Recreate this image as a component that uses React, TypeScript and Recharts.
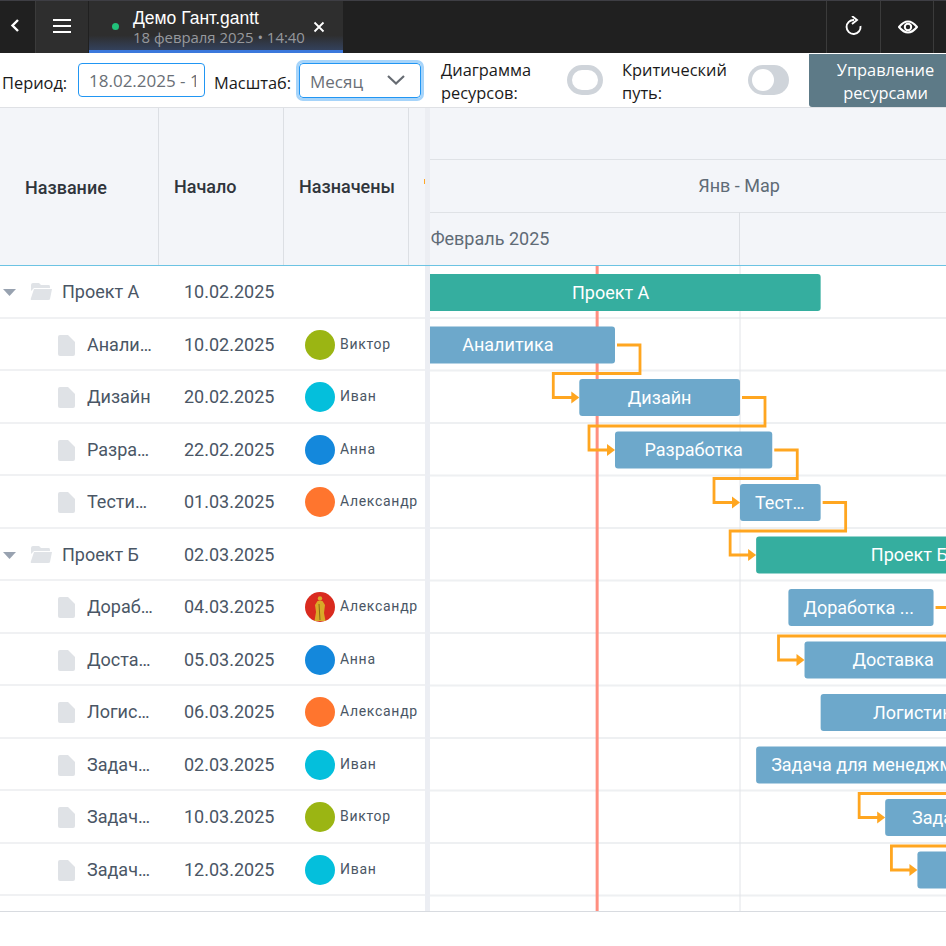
import React from "react";
import { BarChart, Bar, XAxis, YAxis, CartesianGrid, ReferenceLine } from "recharts";

const tableLabels = ["Проект А", "Анали…", "Дизайн", "Разра…", "Тести…", "Проект Б", "Дораб…", "Доста…", "Логис…", "Задач…", "Задач…", "Задач…"];
const barLabels = ["Проект А", "Аналитика", "Дизайн", "Разработка", "Тест…", "Проект Б", "Доработка ...", "Доставка", "Логистика", "Задача для менеджмента", "Задача 2", "Задача 3"];
const startDates = ["10.02.2025", "10.02.2025", "20.02.2025", "22.02.2025", "01.03.2025", "02.03.2025", "04.03.2025", "05.03.2025", "06.03.2025", "02.03.2025", "10.03.2025", "12.03.2025"];
const endDates = ["06.03.2025", "22.02.2025", "01.03.2025", "03.03.2025", "06.03.2025", "21.03.2025", "13.03.2025", "16.03.2025", "18.03.2025", "17.03.2025", "18.03.2025", "21.03.2025"];
const assignees = ["", "Виктор", "Иван", "Анна", "Александр", "", "Александр", "Анна", "Александр", "Иван", "Виктор", "Иван"];
const groups = [0, 5];
// rows whose name does not fit the bar: left aligned instead of centred
const leftAligned = [4, 6, 9];
// successor row of each row, -1 when there is no link
const nextRow = [-1, 2, 3, 4, 5, -1, 7, -1, -1, 10, 11, -1];
const monthLabels = ["Февраль 2025", "Март 2025"];
const monthTicks = [0.5, 1.5];
const todayDate = "21.02.2025";

const avatarColors: Record<string, string> = { Виктор: "#9bb513", Иван: "#04bfdc", Анна: "#1488dc", Александр: "#ff752e" };

const ROW_H = 52.5;
const ORANGE = "#ffa620";

// Every month gets the same width on this timeline, so dates map to month units.
const monthDays: Record<number, number> = { 2: 28, 3: 31 };
function toPos(date: string) {
  const [d, m] = date.split(".").map(Number);
  return m - 2 + (d - 1) / monthDays[m];
}

const rows = barLabels.map((label, i) => ({
  id: String(i),
  label,
  range: [toPos(startDates[i]), toPos(endDates[i])],
  isGroup: groups.includes(i),
  isLeft: leftAligned.includes(i),
  next: nextRow[i],
}));

function TaskBar(props: any) {
  const { x, y, width, height, payload } = props;
  const [start, end] = payload.range;
  const unit = width / (end - start);
  const cy = y + height / 2;
  const ex = x + width;
  let link = null;
  if (payload.next >= 0) {
    const tx = x + (rows[payload.next].range[0] - start) * unit;
    const ty = cy + (payload.next - Number(payload.id)) * ROW_H;
    link = (
      <g>
        <path d={`M${ex + 2} ${cy} H${ex + 25} V${cy + 28.5} H${tx - 26} V${ty} H${tx - 6}`} fill="none" stroke={ORANGE} strokeWidth={2.8} />
        <path d={`M${tx - 8} ${ty - 6} L${tx} ${ty} L${tx - 8} ${ty + 6} Z`} fill={ORANGE} />
      </g>
    );
  }
  return (
    <g>
      {link}
      <rect x={x} y={y} width={width} height={height} rx={3} fill={payload.isGroup ? "#35ae9f" : "#6da8cb"} />
      <text
        x={payload.isLeft ? x + 15 : x + width / 2}
        y={cy}
        dy="0.355em"
        textAnchor={payload.isLeft ? "start" : "middle"}
        fill="#fff"
        fontSize={18}
        fontFamily="Roboto, sans-serif"
      >
        {payload.label}
      </text>
    </g>
  );
}

function Avatar({ name }: { name: string }) {
  if (name === "Александр-фото") {
    return (
      <svg width={30} height={30} style={{ position: "absolute", left: 305, top: 11 }}>
        <circle cx={15} cy={15} r={15} fill="#d92b1f" />
        <circle cx={15} cy={6.5} r={2.2} fill="#d9a928" />
        <path d="M12.5 9 h5 l2.5 4 l-1 8 l1.5 8 h-11 l1.5 -9 l-1 -7 z" fill="#d9a928" />
        <path d="M14 12 l1 16" stroke="#8a6a14" strokeWidth={1} />
      </svg>
    );
  }
  return <div style={{ position: "absolute", left: 305, top: 11, width: 30, height: 30, borderRadius: 15, background: avatarColors[name] }} />;
}

function TableRow({ i }: { i: number }) {
  const group = groups.includes(i);
  const name = assignees[i];
  return (
    <div style={{ position: "absolute", left: 0, top: i * ROW_H, width: 425, height: ROW_H, borderBottom: "2px solid #f0f1f3", boxSizing: "border-box", color: "#4a5665" }}>
      {group ? (
        <>
          <svg width={16} height={10} style={{ position: "absolute", left: 2, top: 22 }}>
            <path d="M1 1 H14 L7.5 8 Z" fill="#98a2b0" />
          </svg>
          <svg width={24} height={20} style={{ position: "absolute", left: 29, top: 16 }}>
            <path d="M2 3 Q2 1 4 1 H10 L12 3 H20 Q21 3 21 5 V6 H5 L2 9 Z" fill="#e0e3e7" />
            <path d="M5 7 H23 L21 17 Q21 18 19 18 H3 Q1 18 2 16 Z" fill="#e0e3e7" />
          </svg>
        </>
      ) : (
        <svg width={17} height={21} style={{ position: "absolute", left: 58, top: 16 }}>
          <path d="M2 0 H10 L17 7 V19 Q17 21 15 21 H2 Q0 21 0 19 V2 Q0 0 2 0 Z" fill="#dfe2e6" />
        </svg>
      )}
      <div style={{ position: "absolute", left: group ? 62 : 87, top: 14, fontSize: 18, lineHeight: "24px", whiteSpace: "nowrap" }}>{tableLabels[i]}</div>
      <div style={{ position: "absolute", left: 184, top: 14, fontSize: 18, lineHeight: "24px" }}>{startDates[i]}</div>
      {name && <Avatar name={i === 6 ? "Александр-фото" : name} />}
      {name && <div style={{ position: "absolute", left: 340, top: 14, fontSize: 14, lineHeight: "22px", letterSpacing: 0.7 }}>{name}</div>}
    </div>
  );
}

const headCell = (left: number, top: number, text: string) => (
  <div style={{ position: "absolute", left, top, fontSize: 18, fontWeight: 500, color: "#30353c", lineHeight: "22px" }}>{text}</div>
);
const vline = (left: number, top: number, height: number, color = "#dcdfe4") => (
  <div style={{ position: "absolute", left, top, width: 1, height, background: color }} />
);
const toolText = (left: number, top: number, text: string) => (
  <div style={{ position: "absolute", left, top, fontSize: 16.4, lineHeight: "23px", color: "#1a1a1a", fontFamily: "'Open Sans', sans-serif", whiteSpace: "nowrap" }}>{text}</div>
);

function TopBar() {
  return (
    <div style={{ position: "absolute", left: 0, top: 0, width: 946, height: 53, background: "#202020", borderTop: "1px solid #3e3e44", boxSizing: "border-box" }}>
      <svg width={14} height={16} style={{ position: "absolute", left: 9, top: 17 }}>
        <path d="M9 2 L3.5 7.5 L9 13" fill="none" stroke="#fff" strokeWidth={2.4} />
      </svg>
      <div style={{ position: "absolute", left: 35, top: 0, width: 53, height: 52, background: "#2e2e2e", borderLeft: "1px solid #3b3b3b", boxSizing: "border-box" }}>
        <div style={{ position: "absolute", left: 17, top: 18, width: 18, height: 2, background: "#fff" }} />
        <div style={{ position: "absolute", left: 17, top: 24, width: 18, height: 2, background: "#fff" }} />
        <div style={{ position: "absolute", left: 17, top: 30, width: 18, height: 2, background: "#fff" }} />
      </div>
      <div style={{ position: "absolute", left: 89, top: 0, width: 254, height: 52, background: "linear-gradient(#2e2e2e 70%, #33415c 100%)", borderBottom: "3px solid #3b78dc", boxSizing: "border-box" }}>
        <div style={{ position: "absolute", left: 23, top: 22, width: 7, height: 7, borderRadius: 4, background: "#21c17a" }} />
        <div style={{ position: "absolute", left: 44, top: 7, fontSize: 17.5, lineHeight: "20px", color: "#fff", fontFamily: "'Liberation Sans', sans-serif", whiteSpace: "nowrap" }}>Демо Гант.gantt</div>
        <div style={{ position: "absolute", left: 44, top: 27, fontSize: 14.9, lineHeight: "18px", color: "#97999d", fontFamily: "'Open Sans', sans-serif", whiteSpace: "nowrap" }}>18 февраля 2025 • 14:40</div>
        <svg width={12} height={12} style={{ position: "absolute", left: 224, top: 20 }}>
          <path d="M1.5 1.5 L10.5 10.5 M10.5 1.5 L1.5 10.5" stroke="#fff" strokeWidth={1.8} />
        </svg>
      </div>
      {vline(826, 0, 52, "#3b3b3b")}
      {vline(880, 0, 52, "#3b3b3b")}
      {vline(933, 0, 52, "#3b3b3b")}
      <svg width={20} height={22} style={{ position: "absolute", left: 844, top: 15 }}>
        <path d="M10 4 A7 7 0 1 0 16.5 10" fill="none" stroke="#fff" strokeWidth={1.9} />
        <path d="M8 0 L13 4 L8 8" fill="none" stroke="#fff" strokeWidth={1.9} />
      </svg>
      <svg width={20} height={16} style={{ position: "absolute", left: 898, top: 18 }}>
        <path d="M1 8 Q10 -3 19 8 Q10 19 1 8 Z" fill="none" stroke="#fff" strokeWidth={2} />
        <circle cx={10} cy={8} r={3.2} fill="none" stroke="#fff" strokeWidth={2} />
      </svg>
    </div>
  );
}

function Toolbar() {
  return (
    <div style={{ position: "absolute", left: 0, top: 53, width: 946, height: 55, background: "#fff", borderBottom: "1px solid #dfe1e5", boxSizing: "border-box" }}>
      {toolText(2, 18, "Период:")}
      <div style={{ position: "absolute", left: 78, top: 10, width: 127, height: 34, border: "1px solid #2196f3", borderRadius: 4, boxSizing: "border-box" }}>
        <div style={{ position: "absolute", left: 10, top: 0, width: 107, height: 32, overflow: "hidden" }}>
          <div style={{ position: "absolute", left: 0, top: 5, fontSize: 17, lineHeight: "23px", color: "#6a6f76", fontFamily: "'Open Sans', sans-serif", whiteSpace: "nowrap" }}>18.02.2025 - 1</div>
        </div>
      </div>
      {toolText(214, 18, "Масштаб:")}
      <div style={{ position: "absolute", left: 299, top: 10, width: 122, height: 35, border: "1px solid #2196f3", outline: "3px solid #a6d4fa", borderRadius: 4, boxSizing: "border-box" }}>
        <div style={{ position: "absolute", left: 10, top: 6, fontSize: 17, lineHeight: "23px", color: "#6a6f76", fontFamily: "'Open Sans', sans-serif" }}>Месяц</div>
        <svg width={20} height={12} style={{ position: "absolute", left: 86, top: 10 }}>
          <path d="M2 2 L10 9.5 L18 2" fill="none" stroke="#666b72" strokeWidth={2.2} />
        </svg>
      </div>
      {toolText(441, 5, "Диаграмма")}
      {toolText(441, 28, "ресурсов:")}
      <div style={{ position: "absolute", left: 567, top: 12, width: 36, height: 30, borderRadius: 15, border: "5px solid #cfd4da", boxSizing: "border-box" }} />
      {toolText(622, 5, "Критический")}
      {toolText(622, 28, "путь:")}
      <div style={{ position: "absolute", left: 748, top: 12, width: 41, height: 30, borderRadius: 15, background: "#cfd4da" }}>
        <div style={{ position: "absolute", left: 4, top: 4, width: 22, height: 22, borderRadius: 11, background: "#fff" }} />
      </div>
      <div style={{ position: "absolute", left: 809, top: 1, width: 137, height: 53, background: "#5d7a87", borderBottomLeftRadius: 3, color: "#fff", fontSize: 16.4, lineHeight: "23px", textAlign: "center", fontFamily: "'Open Sans', sans-serif", paddingTop: 4, boxSizing: "border-box", paddingLeft: 16 }}>
        Управление<br />ресурсами
      </div>
    </div>
  );
}

export default function App() {
  return (
    <div style={{ position: "absolute", left: 0, top: 0, width: 946, height: 946, overflow: "hidden", background: "#fff", fontFamily: "Roboto, sans-serif" }}>
      <TopBar />
      <Toolbar />

      {/* table header */}
      <div style={{ position: "absolute", left: 0, top: 108, width: 946, height: 157, background: "#f3f5f9" }} />
      {headCell(25, 177, "Название")}
      {headCell(174, 176, "Начало")}
      {headCell(299, 176, "Назначены")}
      {vline(158, 108, 157)}
      {vline(283, 108, 157)}
      {vline(408, 108, 157)}
      <div style={{ position: "absolute", left: 424, top: 179, width: 2, height: 5, background: "#ffa726" }} />

      {/* timeline header */}
      <div style={{ position: "absolute", left: 430, top: 159, width: 516, height: 1, background: "#dfe2e6" }} />
      <div style={{ position: "absolute", left: 430, top: 212, width: 516, height: 1, background: "#dfe2e6" }} />
      <div style={{ position: "absolute", left: 639, top: 175, width: 200, textAlign: "center", fontSize: 18, lineHeight: "22px", color: "#5f6b76" }}>Янв - Мар</div>
      {vline(739, 212, 53)}

      {/* table rows */}
      <div style={{ position: "absolute", left: 0, top: 266, width: 425, height: 645 }}>
        {tableLabels.map((_, i) => <TableRow key={i} i={i} />)}
      </div>

      {/* timeline: Feb 1 lies under the table, the chart runs past the right edge */}
      <div style={{ position: "absolute", left: 430, top: 212, width: 516, height: 699, overflow: "hidden" }}>
        <div style={{ position: "absolute", left: -190, top: 0 }}>
          <BarChart width={1000} height={699} data={rows} layout="vertical" margin={{ top: 0, right: 0, bottom: 0, left: 0 }} barSize={37}>
            <CartesianGrid stroke="#eef0f2" strokeWidth={2} vertical={false} horizontalPoints={rows.map((_, i) => 53.5 + (i + 1) * ROW_H)} />
            <XAxis
              type="number"
              orientation="top"
              domain={[0, 2]}
              ticks={monthTicks}
              tickFormatter={(v) => monthLabels[monthTicks.indexOf(v)]}
              height={54}
              tickLine={false}
              tickSize={0}
              tickMargin={21}
              axisLine={false}
              tick={{ fontSize: 18, fill: "#5f6b76", fontFamily: "Roboto, sans-serif" }}
            />
            <YAxis type="category" dataKey="id" hide padding={{ top: 0, bottom: 15 }} />
            <ReferenceLine x={1} stroke="#e2e4e8" strokeWidth={1} zIndex={100} />
            <ReferenceLine x={toPos(todayDate)} stroke="#ff8f80" strokeWidth={3} zIndex={100} />
            <Bar dataKey="range" shape={<TaskBar />} isAnimationActive={false} />
          </BarChart>
        </div>
      </div>

      {/* splitter */}
      <div style={{ position: "absolute", left: 425, top: 108, width: 5, height: 803, background: "#eceef3" }} />
      <div style={{ position: "absolute", left: 425, top: 494, width: 4, height: 30, backgroundImage: "radial-gradient(#a9bdd4 0.6px, transparent 0.7px)", backgroundSize: "2px 2px" }} />

      <div style={{ position: "absolute", left: 0, top: 265, width: 946, height: 1, background: "#6cc3e3" }} />
      <div style={{ position: "absolute", left: 0, top: 911, width: 946, height: 1, background: "#d8dbe0" }} />
    </div>
  );
}
